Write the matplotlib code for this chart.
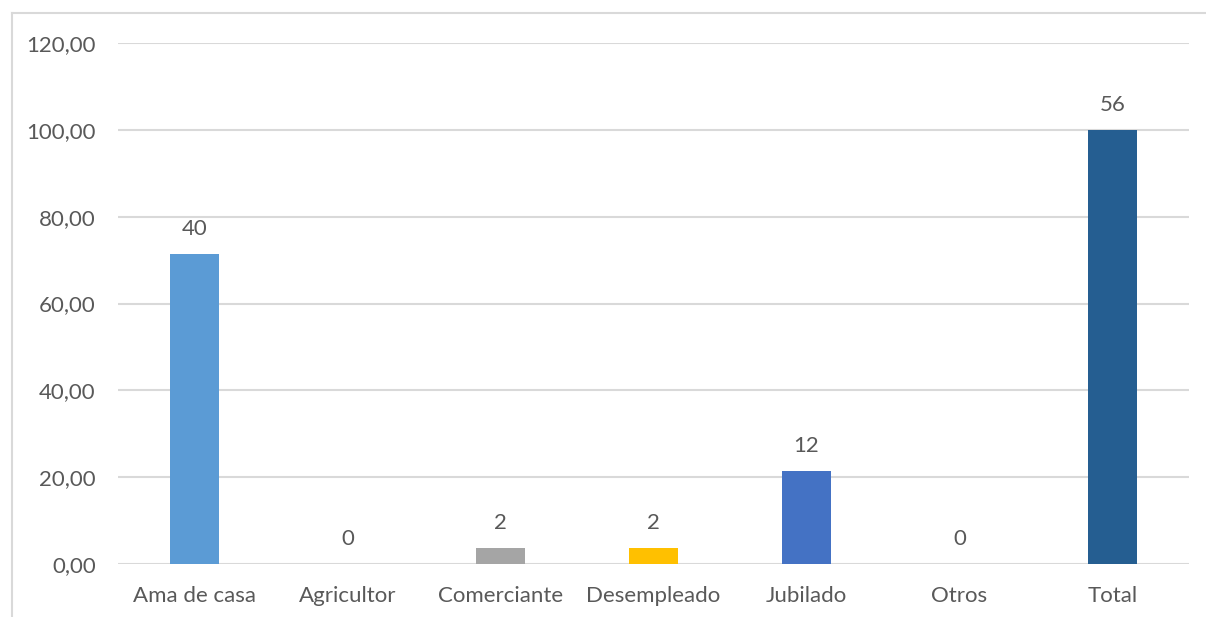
import matplotlib
matplotlib.use("Agg")
import matplotlib.pyplot as plt
from matplotlib.lines import Line2D
from matplotlib.ticker import FuncFormatter, MultipleLocator

categories = ["Ama de casa", "Agricultor", "Comerciante", "Desempleado", "Jubilado", "Otros", "Total"]
counts = [40, 0, 2, 2, 12, 0, 56]
colors = ["#5B9BD5", "#ED7D31", "#A5A5A5", "#FFC000", "#4472C4", "#70AD47", "#255E91"]

total = counts[-1]
percentages = [c / total * 100 for c in counts]

plt.rcParams["font.family"] = ["Lato", "DejaVu Sans"]
text_color = "#595959"
grid_color = "#D9D9D9"
fs = 16

fig = plt.figure(figsize=(12.06, 6.17), dpi=100)
ax = fig.add_axes([118 / 1206, 53 / 617, 1071 / 1206, 521 / 617])

x = list(range(len(categories)))
ax.bar(x, percentages, width=0.315, color=colors, zorder=3)

for xi, pct, c in zip(x, percentages, counts):
    ax.annotate(str(c), (xi, pct), xytext=(0, 18), textcoords="offset points",
                ha="center", va="center", fontsize=fs, color=text_color)

ax.set_xlim(-0.5, len(categories) - 0.5)
ax.set_ylim(0, 120)
ax.yaxis.set_major_locator(MultipleLocator(20))
ax.yaxis.set_major_formatter(FuncFormatter(lambda v, p: f"{v:.2f}".replace(".", ",")))
ax.set_xticks(x)
ax.set_xticklabels(categories)

ax.grid(axis="y", color=grid_color, linewidth=1.5, zorder=0)
for s in ax.spines.values():
    s.set_visible(False)
ax.tick_params(axis="both", length=0, labelsize=fs, labelcolor=text_color)
ax.tick_params(axis="y", pad=16)
ax.tick_params(axis="x", pad=16)

# Outer chart frame
fig.add_artist(Line2D([12 / 1206, 12 / 1206], [0, 1 - 13 / 617], transform=fig.transFigure,
                      color=grid_color, linewidth=1.5))
fig.add_artist(Line2D([12 / 1206, 1], [1 - 13 / 617, 1 - 13 / 617], transform=fig.transFigure,
                      color=grid_color, linewidth=1.5))

fig.savefig("out.png", dpi=100)
